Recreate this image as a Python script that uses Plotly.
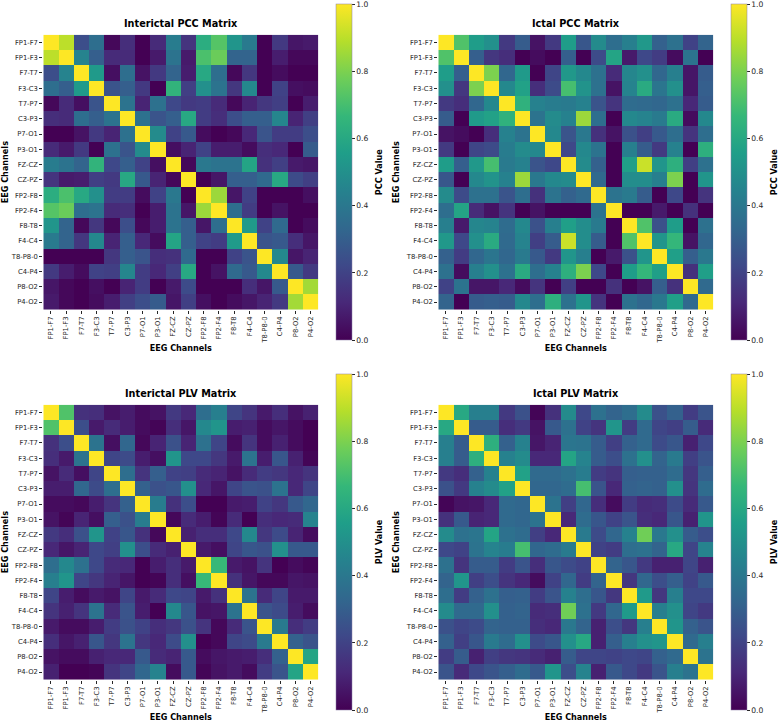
import plotly.graph_objects as go

WIDTH, HEIGHT = 779, 722

CHANNELS = ["FP1-F7", "FP1-F3", "F7-T7", "F3-C3", "T7-P7", "C3-P3", "P7-O1", "P3-O1", "FZ-CZ",
            "CZ-PZ", "FP2-F8", "FP2-F4", "F8-T8", "F4-C4", "T8-P8-0", "C4-P4", "P8-O2", "P4-O2"]

# Each connectivity matrix is symmetric, so only the upper triangle is listed, row by row.
INTERICTAL_PCC = [
    [1, .90, .24, .36, .02, .13, .00, .12, .42, .15, .62, .73, .52, .41, .00, .17, .06, .07],
    [1, .45, .30, .12, .12, .00, .07, .38, .07, .71, .77, .32, .32, .00, .08, .02, .02],
    [1, .54, .04, .36, .05, .17, .32, .08, .60, .36, .02, .16, .00, .03, .00, .00],
    [1, .26, .30, .17, .00, .65, .19, .50, .38, .16, .47, .00, .20, .04, .03],
    [1, .38, .10, .37, .22, .17, .18, .12, .02, .10, .16, .19, .00, .08],
    [1, .37, .26, .30, .60, .18, .13, .24, .30, .30, .46, .10, .19],
    [1, .48, .20, .28, .03, .00, .02, .11, .26, .18, .18, .24],
    [1, .04, .10, .20, .08, .08, .03, .13, .11, .00, .29],
    [1, .02, .40, .38, .38, .58, .14, .19, .07, .06],
    [1, .00, .06, .30, .30, .34, .60, .23, .19],
    [1, .85, .06, .20, .00, .00, .00, .04],
    [1, .36, .18, .00, .05, .00, .00],
    [1, .54, .20, .34, .00, .03],
    [1, .26, .28, .13, .06],
    [1, .47, .06, .10],
    [1, .28, .17],
    [1, .86],
    [1],
]

ICTAL_PCC = [
    [1, .72, .55, .50, .17, .29, .05, .17, .55, .27, .48, .36, .43, .53, .31, .37, .20, .32],
    [1, .30, .16, .13, .00, .03, .00, .30, .00, .23, .58, .07, .22, .18, .03, .38, .00],
    [1, .80, .33, .54, .00, .21, .53, .47, .37, .12, .46, .50, .33, .43, .06, .29],
    [1, .47, .57, .13, .23, .70, .51, .37, .05, .45, .61, .39, .50, .06, .30],
    [1, .64, .44, .42, .41, .44, .26, .15, .35, .34, .33, .37, .11, .29],
    [1, .38, .48, .44, .85, .36, .00, .47, .45, .41, .61, .03, .47],
    [1, .47, .26, .40, .14, .05, .25, .19, .28, .36, .15, .36],
    [1, .22, .47, .38, .00, .43, .29, .17, .44, .00, .63],
    [1, .48, .31, .00, .56, .92, .52, .63, .19, .37],
    [1, .34, .00, .49, .49, .43, .80, .00, .52],
    [1, .38, .41, .29, .00, .22, .00, .15],
    [1, .00, .00, .07, .00, .14, .00],
    [1, .72, .25, .55, .00, .37],
    [1, .52, .66, .05, .33],
    [1, .56, .30, .40],
    [1, .14, .56],
    [1, .34],
    [1],
]

INTERICTAL_PLV = [
    [1, .72, .14, .13, .05, .08, .03, .05, .17, .11, .36, .43, .21, .15, .07, .13, .05, .09],
    [1, .24, .07, .12, .08, .03, .01, .13, .06, .47, .52, .08, .09, .03, .06, .03, .00],
    [1, .38, .04, .33, .02, .10, .25, .10, .37, .21, .03, .15, .03, .09, .03, .00],
    [1, .21, .23, .08, .04, .52, .22, .22, .16, .07, .38, .08, .27, .09, .01],
    [1, .36, .15, .30, .20, .19, .12, .10, .05, .12, .18, .16, .11, .15],
    [1, .31, .25, .27, .50, .11, .06, .21, .26, .25, .38, .11, .21],
    [1, .42, .14, .24, .00, .00, .07, .08, .20, .16, .28, .33],
    [1, .02, .12, .08, .01, .12, .00, .13, .11, .12, .45],
    [1, .09, .13, .13, .22, .47, .16, .23, .10, .03],
    [1, .07, .04, .21, .27, .25, .50, .28, .28],
    [1, .67, .07, .05, .15, .00, .03, .01],
    [1, .14, .06, .02, .02, .06, .05],
    [1, .38, .12, .21, .07, .07],
    [1, .26, .23, .08, .03],
    [1, .41, .13, .18],
    [1, .31, .26],
    [1, .58],
    [1],
]

ICTAL_PLV = [
    [1, .60, .43, .43, .17, .25, .01, .14, .48, .22, .37, .32, .36, .48, .25, .31, .18, .26],
    [1, .29, .29, .13, .17, .05, .28, .37, .20, .15, .52, .18, .34, .21, .19, .29, .12],
    [1, .63, .31, .44, .06, .10, .39, .38, .29, .19, .31, .34, .23, .27, .09, .22],
    [1, .44, .48, .11, .11, .58, .45, .29, .24, .37, .50, .32, .41, .19, .26],
    [1, .57, .34, .34, .37, .42, .18, .15, .30, .31, .31, .35, .16, .30],
    [1, .33, .33, .35, .70, .26, .11, .31, .32, .31, .50, .15, .35],
    [1, .38, .19, .33, .13, .03, .18, .12, .13, .23, .12, .28],
    [1, .11, .35, .27, .20, .26, .13, .11, .27, .09, .52],
    [1, .41, .23, .33, .44, .78, .40, .50, .29, .24],
    [1, .20, .18, .36, .37, .32, .60, .21, .45],
    [1, .32, .27, .17, .09, .09, .21, .09],
    [1, .16, .33, .24, .30, .20, .28],
    [1, .54, .16, .43, .22, .22],
    [1, .43, .50, .21, .17],
    [1, .52, .31, .26],
    [1, .34, .43],
    [1, .38],
    [1],
]


def mirror(upper):
    """Expand upper-triangle rows into a full symmetric matrix."""
    n = len(upper)
    full = [[0.0] * n for _ in range(n)]
    for i, row in enumerate(upper):
        for offset, value in enumerate(row):
            full[i][i + offset] = value
            full[i + offset][i] = value
    return full


# title, colorbar label, values, heatmap left edge, heatmap top edge (pixels)
PANELS = [
    ("Interictal PCC Matrix", "PCC Value", INTERICTAL_PCC, 43.3, 34.7),
    ("Ictal PCC Matrix", "PCC Value", ICTAL_PCC, 438.3, 34.7),
    ("Interictal PLV Matrix", "PLV Value", INTERICTAL_PLV, 43.3, 404.7),
    ("Ictal PLV Matrix", "PLV Value", ICTAL_PLV, 438.3, 404.7),
]
SIZE = 275.0
CBAR_LEN = 336.3
FONT = "DejaVu Sans"
INK = "#262626"
LABEL_FONT = dict(family=FONT, size=8.1, color="#000")
TICK_FONT = dict(family=FONT, size=6.8, color=INK)

fig = go.Figure()
layout = {}
for k, (title, cbar_label, upper, left, top) in enumerate(PANELS, start=1):
    suffix = "" if k == 1 else str(k)
    cbar_top = top - 30.7
    fig.add_trace(go.Heatmap(
        z=mirror(upper), x=CHANNELS, y=CHANNELS,
        xaxis=f"x{suffix}", yaxis=f"y{suffix}",
        colorscale="Viridis", zmin=0, zmax=1,
        colorbar=dict(
            x=(left + 292.4) / WIDTH, xanchor="left", xpad=0,
            y=1 - (cbar_top + CBAR_LEN / 2) / HEIGHT, yanchor="middle", ypad=0,
            len=CBAR_LEN / HEIGHT, lenmode="fraction",
            thickness=16.3, thicknessmode="pixels",
            outlinewidth=0.5, outlinecolor="#8a7fa8",
            tickmode="array", tickvals=[0, .2, .4, .6, .8, 1],
            ticktext=["0.0", "0.2", "0.4", "0.6", "0.8", "1.0"],
            ticks="outside", ticklen=3, tickwidth=0.7, tickcolor=INK,
            tickfont=dict(family=FONT, size=7.6, color=INK),
            ticklabeloverflow="allow",
        ),
    ))
    layout[f"xaxis{suffix}"] = dict(
        domain=[left / WIDTH, (left + SIZE) / WIDTH], anchor=f"y{suffix}",
        tickangle=-90, ticks="outside", ticklen=3, tickwidth=0.7, tickcolor=INK,
        tickfont=TICK_FONT, showgrid=False, zeroline=False, range=[-0.5, 17.5],
        title=dict(text="<b>EEG Channels</b>", standoff=2, font=LABEL_FONT),
    )
    layout[f"yaxis{suffix}"] = dict(
        domain=[1 - (top + SIZE) / HEIGHT, 1 - top / HEIGHT], anchor=f"x{suffix}",
        ticks="outside", ticklen=3, tickwidth=0.7, tickcolor=INK,
        tickfont=TICK_FONT, showgrid=False, zeroline=False, range=[17.5, -0.5],
        title=dict(text="<b>EEG Channels</b>", standoff=4, font=LABEL_FONT),
    )
    fig.add_annotation(
        text=f"<b>{title}</b>", xref="paper", yref="paper", showarrow=False,
        x=(left + SIZE / 2) / WIDTH, y=1 - (top - 11.5) / HEIGHT,
        xanchor="center", yanchor="middle",
        font=dict(family=FONT, size=9.7, color="#000"),
    )
    fig.add_annotation(
        text=f"<b>{cbar_label}</b>", xref="paper", yref="paper", showarrow=False,
        x=(left + 335.7) / WIDTH, y=1 - (cbar_top + CBAR_LEN / 2) / HEIGHT,
        xanchor="center", yanchor="middle", textangle=-90,
        font=LABEL_FONT,
    )

fig.update_layout(width=WIDTH, height=HEIGHT, margin=dict(l=0, r=0, t=0, b=0),
                  paper_bgcolor="white", plot_bgcolor="white", **layout)
fig.write_html("out.html")
